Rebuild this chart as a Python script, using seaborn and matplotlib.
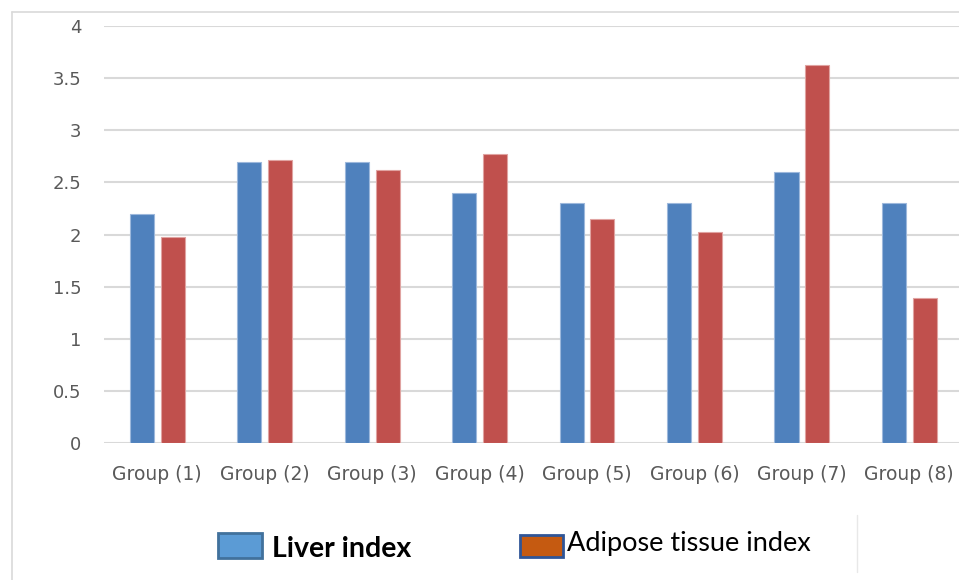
import matplotlib
matplotlib.use("Agg")
import matplotlib.pyplot as plt
import seaborn as sns
import pandas as pd
from matplotlib.patches import Rectangle
from matplotlib.lines import Line2D

groups = ["Group (1)", "Group (2)", "Group (3)", "Group (4)",
          "Group (5)", "Group (6)", "Group (7)", "Group (8)"]
liver_index = [2.2, 2.7, 2.7, 2.4, 2.3, 2.3, 2.6, 2.3]
adipose_index = [1.98, 2.71, 2.62, 2.77, 2.15, 2.02, 3.63, 1.39]
series_names = ["Liver index", "Adipose tissue index"]
y_ticks = [0, 0.5, 1, 1.5, 2, 2.5, 3, 3.5, 4]
y_tick_labels = ["0", "0.5", "1", "1.5", "2", "2.5", "3", "3.5", "4"]

df = pd.DataFrame({
    "group": groups * 2,
    "series": [series_names[0]] * len(groups) + [series_names[1]] * len(groups),
    "value": liver_index + adipose_index,
})

sns.set_theme(style="white")
plt.rcParams["font.family"] = ["DejaVu Sans"]

fig = plt.figure(figsize=(9.59, 5.8), dpi=100)
ax = fig.add_axes([103.6 / 959, (580 - 443) / 580, (963 - 103.6) / 959, (443 - 26) / 580])

bar_colors = ["#4F81BD", "#C0504D"]
edge_colors = ["#9db8dc", "#e0a3a1"]
sns.barplot(data=df, x="group", y="value", hue="series", order=groups,
            hue_order=series_names, palette=bar_colors, width=0.572, gap=0.218,
            saturation=1, linewidth=0, ax=ax, legend=False)

# light outline on bars like the original
for p in ax.patches:
    r, g, b, _ = p.get_facecolor()
    p.set_edgecolor(edge_colors[0] if b > r else edge_colors[1])
    p.set_linewidth(0.8)

ax.set_ylim(0, 4)
ax.set_xlim(-0.5, len(groups) - 0.5)
ax.set_yticks(y_ticks)
ax.set_yticklabels(y_tick_labels)
ax.yaxis.grid(True, color="#d9d9d9", linewidth=1.5)
ax.set_axisbelow(True)
for s in ax.spines.values():
    s.set_visible(False)
ax.set_xlabel("")
ax.set_ylabel("")
ax.tick_params(axis="y", length=0, pad=16, labelsize=13, labelcolor="#595959")
ax.tick_params(axis="x", length=0, pad=16, labelsize=13.5, labelcolor="#595959")

# outer chart border
fig.add_artist(Line2D([12 / 959, 12 / 959], [0, 1 - 12 / 580], color="#d9d9d9", lw=1.2,
                      transform=fig.transFigure))
fig.add_artist(Line2D([12 / 959, 1], [1 - 12 / 580, 1 - 12 / 580], color="#d9d9d9", lw=1.2,
                      transform=fig.transFigure))
fig.add_artist(Line2D([857 / 959, 857 / 959], [1 - 515 / 580, 1 - 572 / 580], color="#e8e8e8",
                      lw=1.0, transform=fig.transFigure))

# legend drawn manually
fig.add_artist(Rectangle((218 / 959, 1 - 558 / 580), 44 / 959, 25 / 580,
                         transform=fig.transFigure, facecolor="#5B9BD5",
                         edgecolor="#41719C", linewidth=2))
fig.text(272 / 959, 1 - 549 / 580, series_names[0], fontsize=20.5, fontweight="bold",
         family=["Lato", "DejaVu Sans"], va="center", ha="left", color="black")
fig.add_artist(Rectangle((520 / 959, 1 - 557 / 580), 43 / 959, 22 / 580,
                         transform=fig.transFigure, facecolor="#C55A11",
                         edgecolor="#2F5597", linewidth=2))
fig.text(567 / 959, 1 - 543 / 580, series_names[1], fontsize=19.5,
         family=["Lato", "DejaVu Sans"], va="center", ha="left", color="black")

fig.savefig("out.png", dpi=100)
